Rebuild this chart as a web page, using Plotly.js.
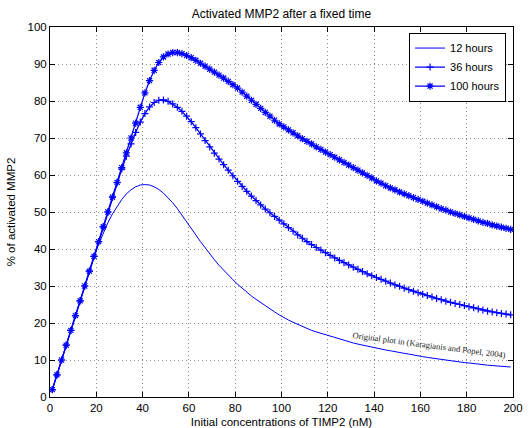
<!DOCTYPE html>
<html>
<head>
<meta charset="utf-8">
<script src="https://cdn.plot.ly/plotly-3.0.1.min.js"></script>
<style>html,body{margin:0;padding:0;background:#fff;}#chart{width:529px;height:428px;}</style>
</head>
<body>
<div id="chart"></div>
<script>
// TIMP2 initial concentration (nM)
const timp2 = [
  1,3,5,7,9,11,13,15,17,19,
  21,23,25,27,29,31,33,35,37,39,
  41,43,45,47,49,51,53,55,57,59,
  61,63,65,67,69,71,73,75,77,79,
  81,83,85,87,89,91,93,95,97,99,
  101,103,105,107,109,111,113,115,117,119,
  121,123,125,127,129,131,133,135,137,139,
  141,143,145,147,149,151,153,155,157,159,
  161,163,165,167,169,171,173,175,177,179,
  181,183,185,187,189,191,193,195,197,199
];
const hours12 = [
  2,6,10,14,18,22,26,30,34,37.8,
  41.3,44.4,47.1,49.5,51.6,53.4,54.9,56.0,56.8,57.3,
  57.4,57.3,56.8,56.1,55.1,53.9,52.5,50.9,49.2,47.4,
  45.6,43.8,42.0,40.3,38.7,37.1,35.6,34.2,32.9,31.7,
  30.5,29.4,28.3,27.3,26.4,25.5,24.6,23.8,23.0,22.2,
  21.4,20.8,20.2,19.6,19.0,18.5,18.0,17.6,17.2,16.8,
  16.4,16.0,15.6,15.3,14.9,14.6,14.3,14.0,13.7,13.5,
  13.2,13.0,12.7,12.5,12.2,12.0,11.8,11.6,11.3,11.1,
  10.9,10.7,10.5,10.4,10.2,10.0,9.8,9.7,9.5,9.3,
  9.2,9.0,8.9,8.8,8.6,8.5,8.4,8.3,8.2,8.1
];
const hours36 = [
  2,6,10,14,18,22,26,30,34,38,
  42,46,50,54,57.9,61.6,65.1,68.4,71.5,74.3,
  76.6,78.4,79.6,80.2,80.3,79.9,79.2,78.3,77.2,75.9,
  74.4,72.8,71.1,69.3,67.6,65.9,64.3,62.8,61.3,59.8,
  58.3,56.9,55.6,54.3,53.1,51.9,50.8,49.8,48.8,47.8,
  46.8,45.8,44.8,43.8,42.9,42.0,41.2,40.4,39.7,39.0,
  38.3,37.6,36.9,36.3,35.7,35.1,34.5,33.9,33.3,32.8,
  32.3,31.8,31.3,30.8,30.3,29.9,29.4,29.0,28.6,28.2,
  27.8,27.4,27.0,26.6,26.3,25.9,25.6,25.3,25.0,24.7,
  24.4,24.1,23.8,23.5,23.2,23.0,22.8,22.6,22.4,22.2
];
const hours100 = [
  2,6,10,14,18,22,26,30,34,38,
  42,46,50,54,58,62,66,70,74,78.3,
  82.2,85.5,88.3,90.4,91.9,92.7,93.1,93.1,92.8,92.3,
  91.7,91.0,90.2,89.4,88.6,87.8,87.0,86.2,85.3,84.4,
  83.5,82.4,81.3,80.2,79.1,78.0,76.9,75.9,74.8,73.8,
  73.0,72.2,71.4,70.6,69.8,69.1,68.4,67.6,66.9,66.2,
  65.5,64.8,64.1,63.4,62.7,62.0,61.3,60.6,59.9,59.2,
  58.4,57.8,57.1,56.5,56.0,55.4,54.9,54.4,53.9,53.4,
  52.9,52.4,51.9,51.4,50.9,50.5,50.0,49.6,49.2,48.8,
  48.4,48.0,47.6,47.2,46.9,46.5,46.2,45.9,45.6,45.3
];
const seriesNames = ["12 hours", "36 hours", "100 hours"];

const blue = "#0000ff";
const traces = [
  {x: timp2, y: hours12, name: seriesNames[0], type: "scatter", mode: "lines",
   line: {color: blue, width: 1}},
  {x: timp2, y: hours36, name: seriesNames[1], type: "scatter", mode: "lines+markers",
   line: {color: blue, width: 1.3},
   marker: {symbol: "cross-thin-open", size: 5, color: blue, line: {color: blue, width: 1.2}}},
  {x: timp2, y: hours100, name: seriesNames[2], type: "scatter", mode: "lines+markers",
   line: {color: blue, width: 1.3},
   marker: {symbol: "asterisk-open", size: 6, color: blue, line: {color: blue, width: 1.2}}}
];

const fontFam = "Liberation Sans, Arial, sans-serif";
const axisCommon = {
  showline: true, linecolor: "#000", linewidth: 1, mirror: "ticks",
  ticks: "inside", ticklen: 5, tickcolor: "#000", tickwidth: 1,
  showgrid: true, gridcolor: "#8c8c8c", griddash: "1px,3px", gridwidth: 1,
  zeroline: false,
  tickfont: {family: fontFam, size: 11.5, color: "#000"}
};

const layout = {
  width: 529, height: 428,
  margin: {l: 50, r: 16, t: 27, b: 31},
  paper_bgcolor: "#fff", plot_bgcolor: "#fff",
  font: {family: fontFam, size: 11, color: "#000"},
  title: {text: "Activated MMP2 after a fixed time", x: 0.532, xanchor: "center",
          y: 0.968, yanchor: "middle",
          font: {family: fontFam, size: 12, color: "#000"}},
  xaxis: Object.assign({}, axisCommon, {
    range: [0, 200], dtick: 20, tick0: 0,
    title: {text: "Initial concentrations of TIMP2 (nM)", standoff: 6,
            font: {family: fontFam, size: 11.5, color: "#000"}}
  }),
  yaxis: Object.assign({}, axisCommon, {
    range: [0, 100], dtick: 10, tick0: 0,
    title: {text: "% of activated MMP2", standoff: 9,
            font: {family: fontFam, size: 11.5, color: "#000"}}
  }),
  legend: {
    x: 0.985, y: 0.985, xanchor: "right", yanchor: "top",
    bgcolor: "#fff", bordercolor: "#000", borderwidth: 1,
    font: {family: fontFam, size: 11, color: "#000"},
    tracegroupgap: 0
  },
  showlegend: true,
  annotations: [{
    x: 197.8, y: 14.0, xref: "x", yref: "y", xanchor: "right", yanchor: "middle",
    text: "Original plot in (Karagianis and Popel, 2004)",
    showarrow: false, textangle: 7.5,
    font: {family: "Liberation Serif, DejaVu Serif, serif", size: 8.5, color: "#222"}
  }]
};

Plotly.newPlot("chart", traces, layout, {displayModeBar: false, staticPlot: true});
</script>
</body>
</html>
